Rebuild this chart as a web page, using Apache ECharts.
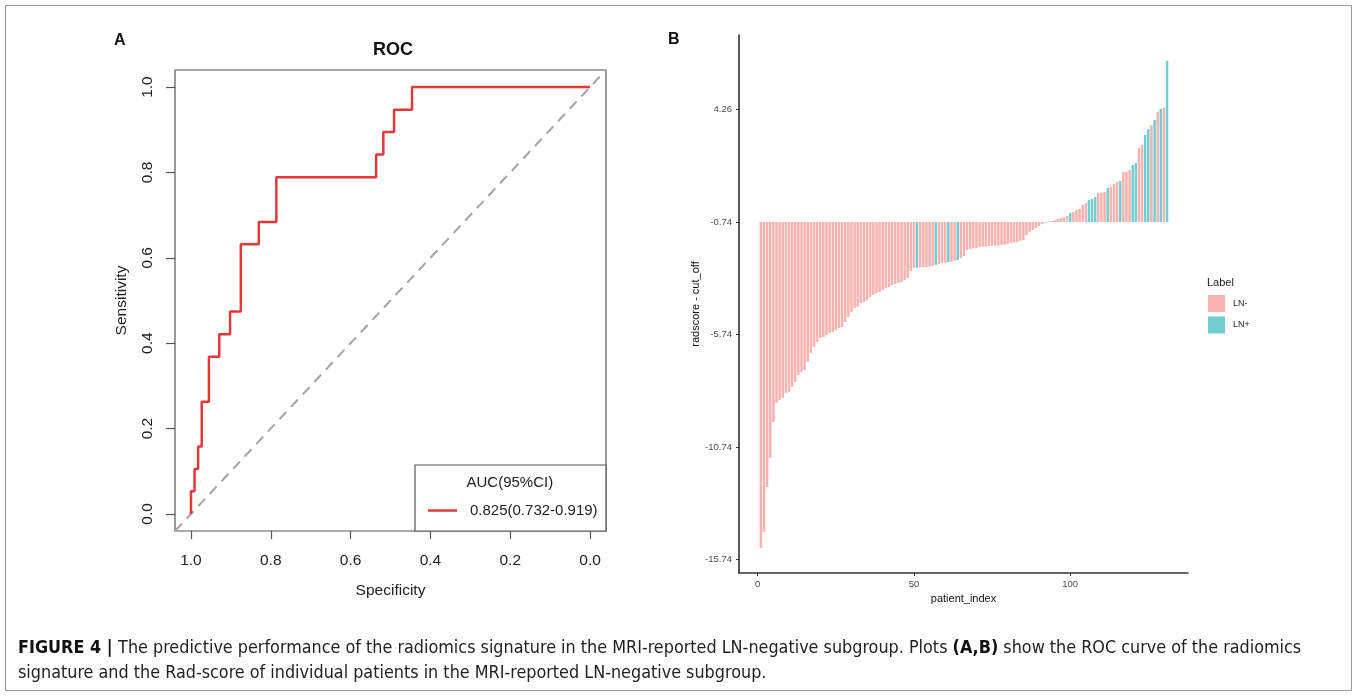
<!DOCTYPE html>
<html>
<head>
<meta charset="utf-8">
<script src="https://cdn.jsdelivr.net/npm/echarts@6/dist/echarts.min.js"></script>
<style>
html,body{margin:0;padding:0;background:#fff;}
#chart{width:1357px;height:696px;}
</style>
</head>
<body>
<div id="chart"></div>
<script>
// ---------- Panel A: ROC curve (step points) ----------
const rocSpec = [1.000,1.000,0.991,0.991,0.982,0.982,0.973,0.973,0.955,0.955,0.929,0.929,0.902,0.902,0.875,0.875,0.830,0.830,0.786,0.786,0.536,0.536,0.518,0.518,0.491,0.491,0.446,0.446,0.000];
const rocSens = [0.000,0.053,0.053,0.105,0.105,0.158,0.158,0.263,0.263,0.368,0.368,0.421,0.421,0.474,0.474,0.632,0.632,0.684,0.684,0.789,0.789,0.842,0.842,0.895,0.895,0.947,0.947,1.000,1.000];
const rocTicks = [0, 0.2, 0.4, 0.6, 0.8, 1.0];
const rocLegendLabel = '0.825(0.732-0.919)';
const rocLegendTitle = 'AUC(95%CI)';

// ---------- Panel B: radscore - cut_off per patient ----------
const baseLine = -0.74;
const radscore = [
-15.23,-14.52,-12.52,-11.23,-9.63,-8.78,-8.65,-8.56,-8.34,-8.30,
-8.07,-7.85,-7.54,-7.41,-7.32,-6.96,-6.56,-6.30,-6.07,-5.90,
-5.85,-5.76,-5.67,-5.63,-5.54,-5.45,-5.41,-5.18,-4.96,-4.74,
-4.56,-4.52,-4.34,-4.30,-4.21,-4.07,-3.98,-3.90,-3.85,-3.76,
-3.67,-3.63,-3.54,-3.50,-3.45,-3.41,-3.32,-3.23,-2.92,-2.78,
-2.77,-2.76,-2.75,-2.74,-2.73,-2.70,-2.65,-2.61,-2.56,-2.55,
-2.52,-2.50,-2.47,-2.43,-2.34,-2.25,-1.98,-1.94,-1.90,-1.89,
-1.85,-1.84,-1.83,-1.81,-1.80,-1.79,-1.78,-1.76,-1.75,-1.72,
-1.67,-1.66,-1.63,-1.58,-1.54,-1.32,-1.18,-1.10,-1.01,-0.92,
-0.83,-0.78,-0.72,-0.70,-0.65,-0.61,-0.56,-0.52,-0.47,-0.34,
-0.30,-0.21,-0.16,0.02,0.10,0.24,0.28,0.37,0.55,0.56,
0.59,0.77,0.82,0.95,1.04,1.08,1.48,1.49,1.57,1.79,
1.88,2.55,2.68,3.13,3.39,3.57,3.79,4.15,4.28,4.33,
6.42];
const lnPositiveIdx = [51,57,61,64,93,94,100,106,107,108,112,116,120,121,124,125,127,129,131];
const yTickValues = [-15.74, -10.74, -5.74, -0.74, 4.26];
const xTickValues = [0, 50, 100];
const labelNames = ['LN-', 'LN+'];
const labelColors = ['#F6B3AF', '#74CCD3'];

const captionLine1 = 'The predictive performance of the radiomics signature in the MRI-reported LN-negative subgroup. Plots ';
const captionLine1b = ' show the ROC curve of the radiomics';
const captionLine2 = 'signature and the Rad-score of individual patients in the MRI-reported LN-negative subgroup.';

// ---------- build ----------
const rocData = rocSpec.map((s, i) => [s, rocSens[i]]);
const posSet = new Set(lnPositiveIdx);
const negBars = [], posBars = [];
radscore.forEach((v, i) => {
  const idx = i + 1;
  const pt = [idx, +(v - baseLine).toFixed(3)];
  (posSet.has(idx) ? posBars : negBars).push(pt);
});

const FONT = '"Liberation Sans", Arial, Helvetica, sans-serif';
const CAPFONT = '"Liberation Sans Narrow", "DejaVu Sans Condensed", "Liberation Sans", sans-serif';

// fit caption font size to the caption width of the figure
function fitSize(target) {
  const c = document.createElement('canvas').getContext('2d');
  c.font = 'bold 16px ' + CAPFONT;
  let w = c.measureText('FIGURE 4 | ').width + c.measureText('(A,B)').width;
  c.font = '16px ' + CAPFONT;
  w += c.measureText(captionLine1 + captionLine1b).width;
  return 16 * target / w;
}
const capSize = fitSize(1284);

const chart = echarts.init(document.getElementById('chart'), null, {renderer: 'canvas'});
const rocGrid = {left: 175, top: 70, width: 431, height: 461};
const barGrid = {left: 739, top: 35, width: 449, height: 538};

chart.setOption({
  animation: false,
  backgroundColor: '#ffffff',
  textStyle: {fontFamily: FONT},
  grid: [
    Object.assign({show: true, borderColor: '#555', borderWidth: 1.2, backgroundColor: 'transparent'}, rocGrid),
    Object.assign({show: false}, barGrid)
  ],
  xAxis: [
    {
      gridIndex: 0, type: 'value', inverse: true, min: -0.04, max: 1.04, position: 'bottom',
      name: 'Specificity', nameLocation: 'middle', nameGap: 52,
      nameTextStyle: {fontSize: 15.5, color: '#222', fontFamily: FONT},
      axisLine: {show: false, onZero: false},
      axisTick: {show: true, length: 8, customValues: rocTicks, lineStyle: {color: '#555', width: 1.2}},
      axisLabel: {customValues: rocTicks, fontSize: 15.5, color: '#222', margin: 22, fontFamily: FONT,
                  formatter: v => v.toFixed(1)},
      splitLine: {show: false}
    },
    {
      gridIndex: 1, type: 'value', min: -6, max: 137.7, position: 'bottom',
      name: 'patient_index', nameLocation: 'middle', nameGap: 18,
      nameTextStyle: {fontSize: 11, color: '#111', fontFamily: FONT},
      axisLine: {show: true, onZero: false, lineStyle: {color: '#333', width: 1.5}},
      axisTick: {show: true, length: 3, customValues: xTickValues, lineStyle: {color: '#333'}},
      axisLabel: {customValues: xTickValues, fontSize: 9.5, color: '#4d4d4d', margin: 6, fontFamily: FONT},
      splitLine: {show: false}
    }
  ],
  yAxis: [
    {
      gridIndex: 0, type: 'value', min: -0.04, max: 1.04, position: 'left',
      name: 'Sensitivity', nameLocation: 'middle', nameGap: 45,
      nameTextStyle: {fontSize: 15.5, color: '#222', fontFamily: FONT},
      axisLine: {show: false, onZero: false},
      axisTick: {show: true, length: 9, customValues: rocTicks, lineStyle: {color: '#555', width: 1.2}},
      axisLabel: {customValues: rocTicks, fontSize: 15.5, color: '#222', margin: 19, rotate: 90, fontFamily: FONT,
                  formatter: v => v.toFixed(1)},
      splitLine: {show: false}
    },
    {
      gridIndex: 1, type: 'value', min: -15.6, max: 8.31, position: 'left',
      name: 'radscore - cut_off', nameLocation: 'middle', nameGap: 38,
      nameTextStyle: {fontSize: 11, color: '#111', fontFamily: FONT},
      axisLine: {show: true, onZero: false, lineStyle: {color: '#222', width: 1.5}},
      axisTick: {show: true, length: 3, customValues: yTickValues.map(v => +(v - baseLine).toFixed(2)), lineStyle: {color: '#333'}},
      axisLabel: {customValues: yTickValues.map(v => +(v - baseLine).toFixed(2)), fontSize: 9.5, color: '#4d4d4d', margin: 7, fontFamily: FONT,
                  formatter: v => (v + baseLine).toFixed(2)},
      splitLine: {show: false}
    }
  ],
  legend: [
    {
      data: [{name: rocLegendLabel, icon: 'path://M0,6 L29,6 L29,8.5 L0,8.5 Z'}],
      left: 428, top: 503, padding: 0,
      itemWidth: 29, itemHeight: 14,
      selectedMode: false,
      textStyle: {fontSize: 15, color: '#222', fontFamily: FONT, padding: [0, 0, 0, 8]}
    },
    {
      data: labelNames, orient: 'vertical', left: 1208, top: 295, padding: 0,
      itemWidth: 17, itemHeight: 17, itemGap: 4.5, icon: 'rect', selectedMode: false,
      textStyle: {fontSize: 9, color: '#222', fontFamily: FONT, padding: [0, 0, 0, 3]}
    }
  ],
  series: [
    {
      type: 'line', name: 'chance', xAxisIndex: 0, yAxisIndex: 0,
      data: [[1.04, -0.04], [-0.04, 1.04]], symbol: 'none', silent: true,
      lineStyle: {color: '#A3A3A3', width: 2, type: [10, 7]}
    },
    {
      type: 'line', name: rocLegendLabel, xAxisIndex: 0, yAxisIndex: 0,
      data: rocData, symbol: 'none', color: '#E0383B',
      lineStyle: {color: '#E0383B', width: 2.5}
    },
    {
      type: 'bar', name: labelNames[0], xAxisIndex: 1, yAxisIndex: 1,
      data: negBars, barWidth: 2.5, barGap: '-100%', color: labelColors[0],
      itemStyle: {color: labelColors[0]}
    },
    {
      type: 'bar', name: labelNames[1], xAxisIndex: 1, yAxisIndex: 1,
      data: posBars, barWidth: 2.5, barGap: '-100%', color: labelColors[1],
      itemStyle: {color: labelColors[1]}
    }
  ],
  graphic: [
    {type: 'rect', shape: {x: 5.5, y: 5.5, width: 1346, height: 685}, style: {fill: 'none', stroke: '#9a9a9a', lineWidth: 1}, silent: true},
    {type: 'text', left: 114, top: 33, style: {text: 'A', font: 'bold 16px ' + FONT, fill: '#111'}},
    {type: 'text', left: 668, top: 32, style: {text: 'B', font: 'bold 16px ' + FONT, fill: '#111'}},
    {type: 'text', left: 373, top: 41, style: {text: 'ROC', font: 'bold 18px ' + FONT, fill: '#111'}},
    {type: 'rect', shape: {x: 415, y: 465, width: 191, height: 66}, style: {fill: '#fff', stroke: '#555', lineWidth: 1.2}, z: 1},
    {type: 'text', left: 466.5, top: 475, style: {text: rocLegendTitle, font: '15px ' + FONT, fill: '#222'}, z: 2},
    {type: 'text', left: 1207, top: 277, style: {text: 'Label', font: '11px ' + FONT, fill: '#222'}},
    {type: 'text', left: 18, top: 636, style: {
      text: '{b|FIGURE 4 | }' + captionLine1 + '{b|(A,B)}' + captionLine1b + '\n' + captionLine2,
      font: capSize.toFixed(2) + 'px ' + CAPFONT, fill: '#222', lineHeight: 25,
      rich: {b: {fontWeight: 'bold', fontFamily: CAPFONT, fontSize: capSize, lineHeight: 25, fill: '#111'}}
    }}
  ]
});
</script>
</body>
</html>
